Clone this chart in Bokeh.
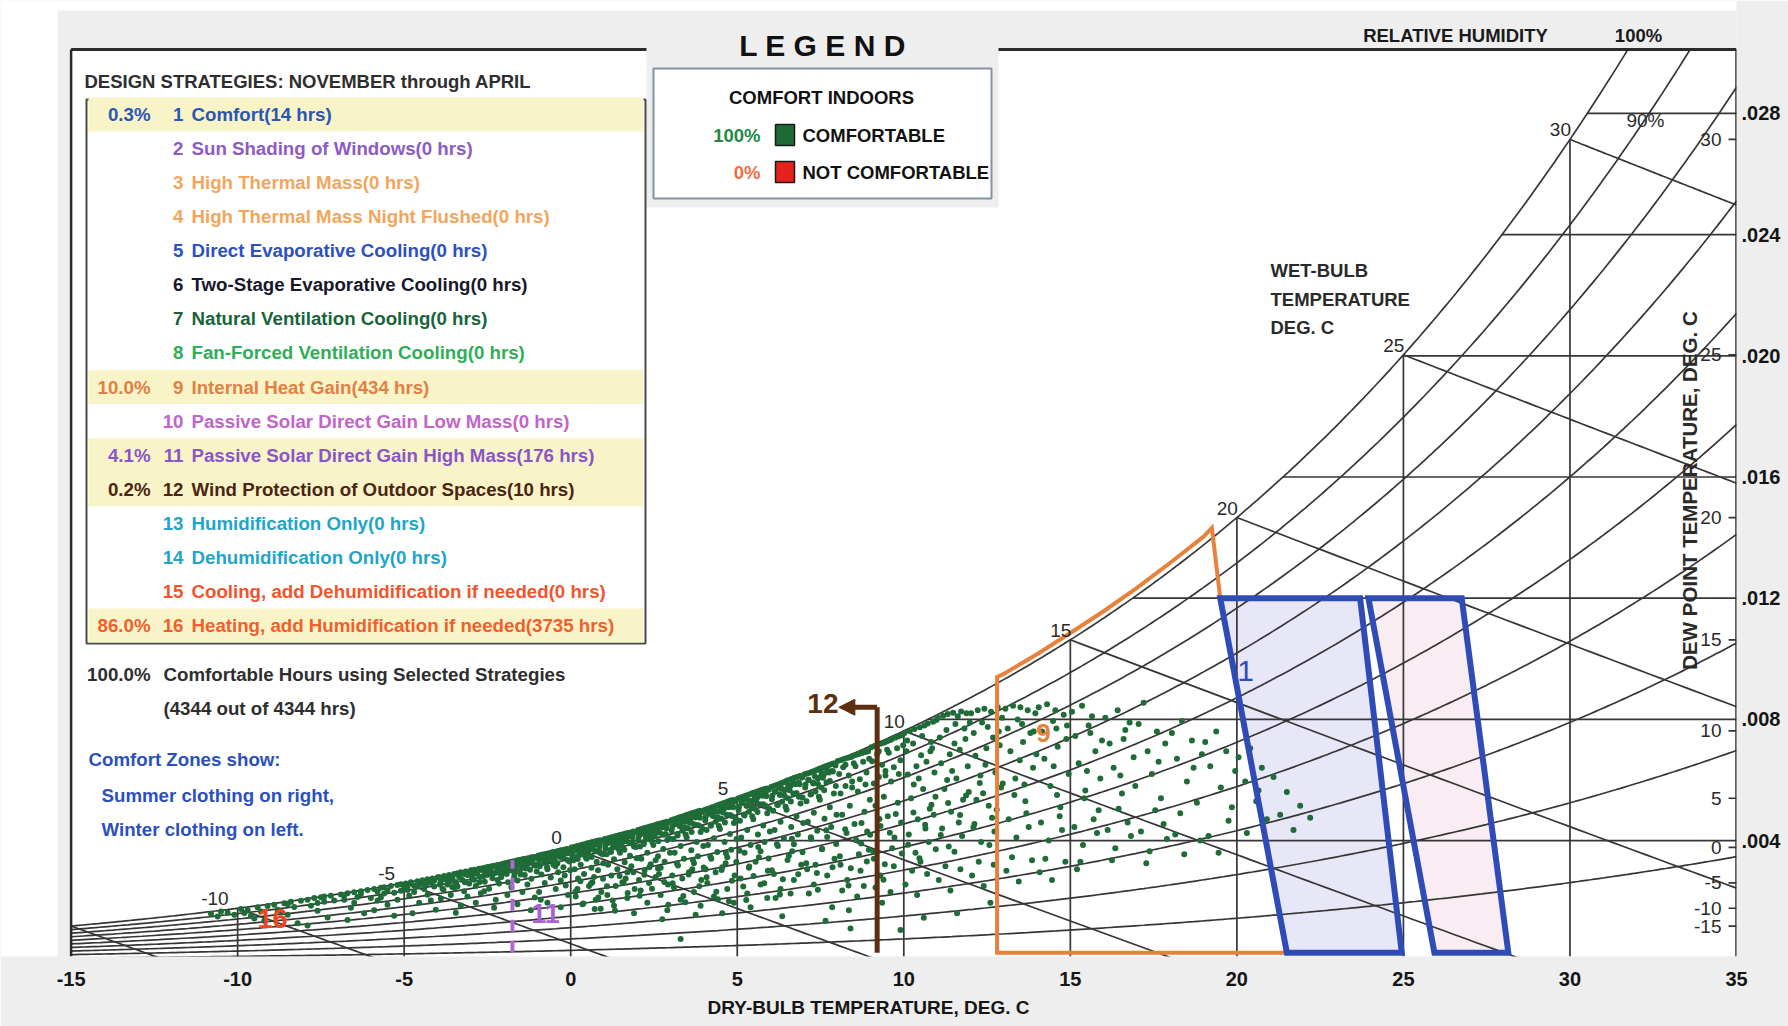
import numpy as np
from bokeh.plotting import figure
from bokeh.models import Range1d, FixedTicker, CustomJSTickFormatter, Arrow, NormalHead
from bokeh.core.properties import value
from bokeh.embed import file_html
from bokeh.resources import INLINE

SANS = "'Liberation Sans', Arial, sans-serif"

# ---------------------------------------------------------------- data
dry_bulb_ticks = [-15, -10, -5, 0, 5, 10, 15, 20, 25, 30, 35]
humidity_ratio_ticks = [0.004, 0.008, 0.012, 0.016, 0.020, 0.024, 0.028]
dry_bulb_grid = [-10, -5, 0, 5, 10, 15, 20, 25, 30]
rh_levels = [0.1, 0.2, 0.3, 0.4, 0.5, 0.6, 0.7, 0.8, 0.9, 1.0]
wet_bulb_lines = [-15, -10, -5, 0, 5, 10, 15, 20, 25, 30]
wet_bulb_labels = [-10, -5, 0, 5, 10, 15, 20, 25, 30]
dew_point_ticks = [-15, -10, -5, 0, 5, 10, 15, 20, 25, 30]

strategy_names = [
    "Comfort(14 hrs)", "Sun Shading of Windows(0 hrs)", "High Thermal Mass(0 hrs)",
    "High Thermal Mass Night Flushed(0 hrs)", "Direct Evaporative Cooling(0 hrs)",
    "Two-Stage Evaporative Cooling(0 hrs)", "Natural Ventilation Cooling(0 hrs)",
    "Fan-Forced Ventilation Cooling(0 hrs)", "Internal Heat Gain(434 hrs)",
    "Passive Solar Direct Gain Low Mass(0 hrs)", "Passive Solar Direct Gain High Mass(176 hrs)",
    "Wind Protection of Outdoor Spaces(10 hrs)", "Humidification Only(0 hrs)",
    "Dehumidification Only(0 hrs)", "Cooling, add Dehumidification if needed(0 hrs)",
    "Heating, add Humidification if needed(3735 hrs)",
]
strategy_share = ["0.3%", "", "", "", "", "", "", "", "10.0%", "", "4.1%", "0.2%", "", "", "", "86.0%"]
used_strategies = [1, 9, 11, 12, 16]
comfort_share = ["100%", "0%"]
comfort_classes = ["COMFORTABLE", "NOT COMFORTABLE"]

# comfort zones (dry bulb degC, humidity ratio kg/kg)
winter_zone_t = [19.5, 23.7, 24.95, 21.5]
winter_zone_w = [0.012, 0.012, 0.0003, 0.0003]
summer_zone_t = [23.95, 26.75, 28.15, 25.93]
summer_zone_w = [0.012, 0.012, 0.0003, 0.0003]
# internal heat gain zone
heat_gain_t = [12.8, 12.8, 13.0, 14.0, 15.0, 16.0, 17.0, 18.0, 19.0, 19.25, 19.5, 21.5]
heat_gain_w = [0.0003, 0.0094, 0.0095, 0.01015, 0.01085, 0.01157, 0.01234, 0.01317, 0.01403, 0.01432, 0.012, 0.0003]
# wind protection limit and passive solar limit
wind_t, wind_top_w, wind_arrow_t = 9.2, 0.0084, 8.05
solar_t, solar_top_w = -1.75, 0.00335

# hourly conditions, Nov-Apr (dry bulb degC, humidity ratio g/kg)
hours_cold = [
    (-10.8, 1.58), (-10.5, 1.66), (-10.3, 1.62), (-10.1, 1.55), (-10.6, 1.49),
    (-9.9, 1.74), (-9.7, 1.70), (-9.6, 1.52), (-9.4, 1.80), (-9.3, 1.66), (-9.2, 1.35), (-9.1, 1.84), (-9.8, 1.61), (-9.5, 1.43),
    (-8.9, 1.88), (-8.8, 1.72), (-8.6, 1.93), (-8.5, 1.55), (-8.4, 1.98), (-8.3, 1.81), (-8.2, 1.27), (-8.1, 2.01), (-8.7, 1.64), (-8.5, 1.90),
    (-7.9, 2.05), (-7.8, 1.85), (-7.7, 2.10), (-7.6, 1.68), (-7.5, 2.13), (-7.4, 1.98), (-7.3, 1.46), (-7.2, 2.18), (-7.1, 2.02), (-7.6, 1.94), (-7.9, 1.20), (-7.4, 2.15),
    (-6.9, 2.22), (-6.8, 2.05), (-6.7, 2.26), (-6.6, 1.78), (-6.5, 2.29), (-6.4, 2.14), (-6.3, 2.33), (-6.2, 1.60), (-6.1, 2.37), (-6.8, 2.19), (-6.5, 1.95), (-6.3, 2.24), (-6.0, 2.10), (-6.7, 1.38),
    (-5.9, 2.40), (-5.8, 2.31), (-5.7, 2.44), (-5.7, 2.12), (-5.6, 2.46), (-5.5, 2.36), (-5.5, 1.88), (-5.4, 2.50), (-5.3, 2.28), (-5.2, 2.53), (-5.2, 2.05), (-5.1, 2.56), (-5.0, 2.42), (-5.9, 1.70), (-5.6, 2.25), (-5.3, 1.52), (-5.8, 2.02), (-5.1, 2.34),
    (-4.95, 2.58), (-4.9, 2.45), (-4.85, 2.18), (-4.8, 2.62), (-4.7, 2.51), (-4.7, 2.30), (-4.6, 2.66), (-4.55, 1.95), (-4.5, 2.57), (-4.45, 2.69), (-4.4, 2.40), (-4.3, 2.72),
    (-4.3, 2.21), (-4.2, 2.61), (-4.15, 2.75), (-4.1, 2.48), (-4.05, 1.72), (-4.0, 2.78), (-4.9, 2.37), (-4.6, 2.49), (-4.35, 2.55), (-4.2, 2.02), (-4.75, 1.60), (-4.1, 2.67),
    (-3.95, 2.80), (-3.9, 2.64), (-3.85, 2.41), (-3.8, 2.83), (-3.75, 2.72), (-3.7, 2.55), (-3.65, 2.86), (-3.6, 2.20), (-3.55, 2.77), (-3.5, 2.90), (-3.45, 2.63), (-3.4, 2.92),
    (-3.4, 2.48), (-3.35, 2.81), (-3.3, 2.95), (-3.25, 2.70), (-3.2, 2.33), (-3.15, 2.98), (-3.1, 2.86), (-3.05, 2.58), (-3.0, 3.01), (-3.9, 2.09), (-3.6, 2.68), (-3.3, 1.86),
    (-3.7, 2.77), (-3.2, 2.90), (-3.5, 2.44), (-3.85, 2.74), (-3.1, 2.15), (-3.45, 1.62),
    (-2.98, 3.02), (-2.95, 2.88), (-2.9, 2.71), (-2.88, 3.04), (-2.85, 2.50), (-2.8, 2.95), (-2.75, 3.07), (-2.72, 2.80), (-2.7, 2.26), (-2.65, 3.09), (-2.6, 2.99), (-2.58, 2.64),
    (-2.55, 3.11), (-2.5, 2.87), (-2.48, 3.13), (-2.45, 2.41), (-2.4, 3.02), (-2.38, 3.15), (-2.35, 2.76), (-2.3, 3.17), (-2.28, 2.93), (-2.25, 2.05), (-2.2, 3.19), (-2.18, 3.07),
    (-2.15, 2.58), (-2.1, 3.21), (-2.08, 2.84), (-2.05, 3.23), (-2.02, 2.98), (-2.9, 3.00), (-2.6, 2.33), (-2.42, 2.96), (-2.2, 2.70), (-2.7, 3.04), (-2.3, 1.78), (-2.5, 3.10),
    (-2.12, 3.13), (-2.85, 1.95),
]
hours_cool = [
    (-1.98, 3.25), (-1.95, 3.10), (-1.92, 2.90), (-1.9, 3.27), (-1.88, 2.62), (-1.85, 3.18), (-1.82, 3.29), (-1.8, 3.02), (-1.78, 2.45), (-1.75, 3.31), (-1.72, 3.21), (-1.7, 2.80),
    (-1.68, 3.32), (-1.65, 3.08), (-1.62, 3.34), (-1.6, 2.68), (-1.58, 3.25), (-1.55, 3.36), (-1.52, 2.95), (-1.5, 3.37), (-1.48, 3.14), (-1.45, 2.30), (-1.42, 3.39), (-1.4, 3.29),
    (-1.38, 2.86), (-1.35, 3.40), (-1.32, 3.19), (-1.3, 2.55), (-1.28, 3.42), (-1.25, 3.35), (-1.22, 3.04), (-1.2, 3.44), (-1.18, 2.74), (-1.15, 3.40), (-1.12, 3.46), (-1.1, 3.22),
    (-1.08, 2.12), (-1.05, 3.45), (-1.02, 2.98), (-1.9, 2.20), (-1.6, 1.90), (-1.4, 3.12), (-1.2, 1.70), (-1.7, 3.26), (-1.3, 3.31),
    (-0.98, 3.50), (-0.96, 3.38), (-0.93, 3.15), (-0.9, 3.52), (-0.88, 2.88), (-0.85, 3.47), (-0.83, 3.54), (-0.8, 3.28), (-0.78, 2.60), (-0.75, 3.56), (-0.72, 3.43), (-0.7, 3.05),
    (-0.68, 3.57), (-0.65, 3.34), (-0.62, 3.59), (-0.6, 2.78), (-0.58, 3.51), (-0.55, 3.61), (-0.52, 3.20), (-0.5, 3.62), (-0.48, 3.40), (-0.45, 2.40), (-0.42, 3.64), (-0.4, 3.55),
    (-0.38, 2.95), (-0.35, 3.66), (-0.32, 3.46), (-0.3, 2.68), (-0.28, 3.68), (-0.25, 3.60), (-0.22, 3.12), (-0.2, 3.70), (-0.18, 2.85), (-0.15, 3.65), (-0.12, 3.72), (-0.1, 3.36),
    (-0.08, 2.20), (-0.05, 3.70), (-0.02, 3.02), (-0.95, 2.30), (-0.7, 1.95), (-0.5, 3.58), (-0.3, 1.80), (-0.85, 3.52), (-0.4, 3.25), (-0.15, 2.52), (-0.6, 3.56), (-0.25, 3.50),
    (-0.9, 2.05), (-0.1, 3.58),
    (0.02, 3.77), (0.05, 3.60), (0.08, 3.35), (0.1, 3.79), (0.12, 3.05), (0.15, 3.70), (0.18, 3.81), (0.2, 3.48), (0.22, 2.75), (0.25, 3.83), (0.28, 3.66), (0.3, 3.20),
    (0.32, 3.85), (0.35, 3.55), (0.38, 3.87), (0.4, 2.90), (0.42, 3.76), (0.45, 3.89), (0.48, 3.40), (0.5, 3.91), (0.52, 3.62), (0.55, 2.50), (0.58, 3.93), (0.6, 3.82),
    (0.62, 3.10), (0.65, 3.95), (0.68, 3.70), (0.7, 2.80), (0.72, 3.97), (0.75, 3.86), (0.78, 3.30), (0.8, 3.99), (0.82, 3.02), (0.85, 3.92), (0.88, 4.01), (0.9, 3.58),
    (0.92, 2.30), (0.95, 3.98), (0.98, 3.25), (0.15, 2.15), (0.35, 1.90), (0.55, 3.80), (0.75, 2.05), (0.1, 3.72), (0.45, 3.45), (0.65, 2.62), (0.3, 3.82), (0.85, 3.68),
    (0.2, 2.40), (0.6, 3.90), (0.9, 1.75), (0.4, 3.64),
    (1.02, 4.05), (1.05, 3.85), (1.08, 3.55), (1.1, 4.07), (1.12, 3.20), (1.15, 3.96), (1.18, 4.09), (1.2, 3.70), (1.22, 2.85), (1.25, 4.11), (1.28, 3.92), (1.3, 3.38),
    (1.32, 4.13), (1.35, 3.78), (1.38, 4.15), (1.4, 3.05), (1.42, 4.02), (1.45, 4.17), (1.48, 3.60), (1.5, 4.19), (1.52, 3.88), (1.55, 2.62), (1.58, 4.21), (1.6, 4.10),
    (1.62, 3.28), (1.65, 4.23), (1.68, 3.98), (1.7, 2.95), (1.72, 4.25), (1.75, 4.14), (1.78, 3.50), (1.8, 4.27), (1.82, 3.15), (1.85, 4.20), (1.88, 4.30), (1.9, 3.80),
    (1.92, 2.40), (1.95, 4.28), (1.98, 3.42), (1.1, 2.20), (1.3, 1.85), (1.5, 4.06), (1.7, 2.10), (1.15, 4.00), (1.45, 3.70), (1.65, 2.75), (1.25, 4.10), (1.85, 3.95),
    (1.35, 2.50), (1.6, 4.18), (1.9, 1.60), (1.4, 3.88),
    (2.02, 4.35), (2.05, 4.15), (2.08, 3.80), (2.1, 4.37), (2.12, 3.40), (2.15, 4.25), (2.18, 4.40), (2.2, 3.95), (2.22, 3.02), (2.25, 4.42), (2.28, 4.20), (2.3, 3.60),
    (2.32, 4.44), (2.35, 4.05), (2.38, 4.46), (2.4, 3.22), (2.42, 4.30), (2.45, 4.48), (2.48, 3.85), (2.5, 4.50), (2.52, 4.14), (2.55, 2.80), (2.58, 4.53), (2.6, 4.40),
    (2.62, 3.48), (2.65, 4.55), (2.68, 4.26), (2.7, 3.10), (2.72, 4.57), (2.75, 4.44), (2.78, 3.72), (2.8, 4.60), (2.82, 3.30), (2.85, 4.50), (2.88, 4.62), (2.9, 4.02),
    (2.92, 2.55), (2.95, 4.60), (2.98, 3.60), (2.1, 2.35), (2.3, 1.95), (2.5, 4.34), (2.7, 2.20), (2.15, 4.30), (2.45, 3.95), (2.65, 2.90), (2.25, 4.40), (2.85, 4.22),
    (2.35, 2.60), (2.6, 4.48), (2.9, 1.70), (2.4, 4.12), (2.05, 2.70), (2.75, 1.40), (2.55, 3.35),
]
hours_mild = [
    (3.02, 4.67), (3.05, 4.45), (3.08, 4.05), (3.1, 4.70), (3.12, 3.60), (3.15, 4.55), (3.18, 4.73), (3.2, 4.22), (3.22, 3.18), (3.25, 4.76), (3.28, 4.50), (3.3, 3.82),
    (3.32, 4.78), (3.35, 4.32), (3.38, 4.80), (3.4, 3.40), (3.42, 4.62), (3.45, 4.83), (3.48, 4.10), (3.5, 4.85), (3.52, 4.41), (3.55, 2.95), (3.58, 4.88), (3.6, 4.72),
    (3.62, 3.68), (3.65, 4.91), (3.68, 4.55), (3.7, 3.25), (3.72, 4.93), (3.75, 4.76), (3.78, 3.95), (3.8, 4.96), (3.82, 3.48), (3.85, 4.84), (3.88, 4.98), (3.9, 4.28),
    (3.92, 2.70), (3.95, 4.94), (3.98, 3.82), (3.1, 2.45), (3.3, 2.05), (3.5, 4.64), (3.7, 2.30), (3.15, 4.62), (3.45, 4.20), (3.65, 3.05), (3.25, 4.70), (3.85, 4.50),
    (3.35, 2.75), (3.6, 4.80), (3.9, 1.85), (3.4, 4.40), (3.05, 2.85), (3.3, 0.75), (3.75, 1.55),
    (4.02, 5.01), (4.05, 4.78), (4.08, 4.35), (4.1, 5.04), (4.12, 3.85), (4.15, 4.90), (4.18, 5.07), (4.2, 4.52), (4.22, 3.40), (4.25, 5.10), (4.28, 4.82), (4.3, 4.08),
    (4.32, 5.12), (4.35, 4.62), (4.38, 5.15), (4.4, 3.62), (4.42, 4.95), (4.45, 5.18), (4.48, 4.38), (4.5, 5.20), (4.52, 4.72), (4.55, 3.12), (4.58, 5.23), (4.6, 5.05),
    (4.62, 3.95), (4.65, 5.26), (4.68, 4.85), (4.7, 3.45), (4.72, 5.29), (4.75, 5.10), (4.78, 4.22), (4.8, 5.32), (4.82, 3.70), (4.85, 5.18), (4.88, 5.34), (4.9, 4.58),
    (4.92, 2.85), (4.95, 5.30), (4.98, 4.05), (4.1, 2.60), (4.3, 2.15), (4.5, 4.98), (4.7, 2.40), (4.15, 4.95), (4.45, 4.48), (4.65, 3.25), (4.25, 5.00), (4.85, 4.80),
    (4.35, 2.95), (4.6, 5.15), (4.9, 1.95), (4.4, 4.70), (4.05, 3.05), (4.55, 1.60), (4.75, 2.00),
    (5.02, 5.39), (5.05, 5.12), (5.08, 4.65), (5.1, 5.42), (5.12, 4.10), (5.15, 5.25), (5.18, 5.45), (5.2, 4.85), (5.22, 3.60), (5.25, 5.48), (5.28, 5.15), (5.3, 4.35),
    (5.32, 5.50), (5.35, 4.95), (5.38, 5.53), (5.4, 3.85), (5.42, 5.30), (5.45, 5.56), (5.48, 4.70), (5.5, 5.58), (5.52, 5.05), (5.55, 3.30), (5.58, 5.61), (5.6, 5.42),
    (5.62, 4.20), (5.65, 5.64), (5.68, 5.20), (5.7, 3.65), (5.72, 5.67), (5.75, 5.48), (5.78, 4.50), (5.8, 5.69), (5.82, 3.95), (5.85, 5.55), (5.88, 5.72), (5.9, 4.90),
    (5.92, 3.00), (5.95, 5.68), (5.98, 4.30), (5.1, 2.75), (5.3, 2.25), (5.5, 5.35), (5.7, 2.55), (5.15, 5.30), (5.45, 4.80), (5.65, 3.45), (5.25, 5.38), (5.85, 5.15),
    (5.35, 3.10), (5.6, 5.52), (5.9, 2.10), (5.4, 1.80),
    (6.02, 5.77), (6.05, 5.48), (6.08, 4.98), (6.1, 5.80), (6.12, 4.35), (6.15, 5.62), (6.18, 5.83), (6.2, 5.18), (6.22, 3.82), (6.25, 5.86), (6.28, 5.50), (6.3, 4.62),
    (6.32, 5.89), (6.35, 5.28), (6.38, 5.92), (6.4, 4.08), (6.42, 5.66), (6.45, 5.95), (6.48, 5.02), (6.5, 5.98), (6.52, 5.40), (6.55, 3.50), (6.58, 6.01), (6.6, 5.80),
    (6.62, 4.45), (6.65, 6.04), (6.68, 5.55), (6.7, 3.88), (6.72, 6.07), (6.75, 5.86), (6.78, 4.80), (6.8, 6.10), (6.82, 4.20), (6.85, 5.92), (6.88, 6.13), (6.9, 5.22),
    (6.92, 3.20), (6.95, 6.08), (6.98, 4.58), (6.1, 2.90), (6.3, 2.40), (6.5, 5.72), (6.7, 2.70), (6.15, 2.10), (6.45, 5.12), (6.65, 3.65), (6.25, 5.75), (6.85, 5.45),
    (6.35, 1.50), (6.6, 2.25),
    (7.02, 6.19), (7.05, 5.85), (7.08, 5.30), (7.1, 6.21), (7.12, 4.62), (7.15, 6.00), (7.18, 6.24), (7.2, 5.52), (7.22, 4.05), (7.25, 6.27), (7.28, 5.88), (7.3, 4.92),
    (7.32, 6.30), (7.35, 5.62), (7.38, 6.33), (7.4, 4.32), (7.42, 6.05), (7.45, 6.36), (7.48, 5.35), (7.5, 6.39), (7.52, 5.75), (7.55, 3.72), (7.58, 6.42), (7.6, 6.18),
    (7.62, 4.72), (7.65, 6.45), (7.68, 5.92), (7.7, 4.12), (7.72, 6.48), (7.75, 6.25), (7.78, 5.10), (7.8, 6.51), (7.82, 4.45), (7.85, 6.30), (7.88, 6.54), (7.9, 5.55),
    (7.92, 3.40), (7.95, 6.48), (7.98, 4.85), (7.1, 3.05), (7.3, 2.55), (7.5, 6.10), (7.7, 2.85), (7.15, 2.25), (7.45, 5.45), (7.65, 1.35), (7.85, 1.80), (7.35, 3.20),
    (8.02, 6.63), (8.06, 6.20), (8.1, 5.55), (8.12, 6.66), (8.15, 4.85), (8.18, 6.42), (8.22, 6.70), (8.25, 5.80), (8.28, 4.25), (8.32, 6.73), (8.35, 6.15), (8.38, 5.15),
    (8.42, 6.76), (8.45, 5.95), (8.48, 6.80), (8.52, 4.55), (8.55, 6.45), (8.58, 6.83), (8.62, 5.62), (8.65, 6.86), (8.68, 6.02), (8.72, 3.90), (8.75, 6.89), (8.78, 6.60),
    (8.82, 4.95), (8.85, 6.92), (8.88, 6.25), (8.9, 4.30), (8.93, 6.95), (8.96, 6.70), (8.98, 5.35), (8.1, 3.20), (8.3, 2.70), (8.5, 6.55), (8.7, 3.00), (8.15, 2.35),
    (8.45, 5.75), (8.65, 3.55), (8.25, 6.50), (8.85, 5.85), (8.35, 1.70), (8.6, 2.15), (8.95, 3.70), (8.4, 1.10), (8.8, 2.50),
]
hours_near_saturation = [
    (-3.93, 2.55), (-3.71, 2.69), (-3.56, 2.47), (-3.34, 2.80), (-3.18, 2.62), (-3.07, 2.87), (-3.82, 2.38), (-3.44, 2.59),
    (-2.96, 2.74), (-2.81, 2.90), (-2.63, 2.81), (-2.57, 3.02), (-2.36, 2.88), (-2.22, 3.10), (-2.09, 2.79), (-2.74, 2.62), (-2.44, 3.06), (-2.17, 2.97),
    (-1.94, 3.04), (-1.86, 3.20), (-1.69, 2.92), (-1.58, 3.18), (-1.47, 3.33), (-1.36, 3.08), (-1.23, 3.26), (-1.13, 3.39), (-1.06, 3.17), (-1.77, 3.12), (-1.51, 2.88), (-1.29, 3.37),
    (-0.97, 3.22), (-0.89, 3.41), (-0.77, 3.30), (-0.66, 3.52), (-0.54, 3.38), (-0.46, 3.15), (-0.37, 3.61), (-0.23, 3.44), (-0.14, 3.57), (-0.04, 3.31), (-0.71, 3.12), (-0.29, 3.66), (-0.83, 3.47),
    (0.04, 3.52), (0.13, 3.68), (0.21, 3.39), (0.34, 3.74), (0.43, 3.57), (0.52, 3.81), (0.63, 3.46), (0.71, 3.90), (0.79, 3.64), (0.87, 3.83), (0.96, 3.55), (0.27, 3.60), (0.58, 3.71),
    (1.04, 3.74), (1.13, 3.93), (1.21, 3.62), (1.32, 4.01), (1.41, 3.84), (1.53, 4.09), (1.61, 3.70), (1.69, 4.16), (1.78, 3.91), (1.86, 4.12), (1.96, 3.79), (1.27, 3.80), (1.57, 3.96),
    (2.03, 4.03), (2.11, 4.22), (2.19, 3.88), (2.33, 4.30), (2.42, 4.12), (2.51, 4.40), (2.63, 3.98), (2.71, 4.47), (2.79, 4.19), (2.87, 4.41), (2.96, 4.08), (2.26, 4.11), (2.57, 4.26),
    (3.03, 4.33), (3.12, 4.55), (3.21, 4.17), (3.33, 4.63), (3.42, 4.44), (3.51, 4.72), (3.63, 4.28), (3.71, 4.81), (3.79, 4.51), (3.88, 4.75), (3.96, 4.39), (3.27, 4.48), (3.57, 4.59),
    (4.04, 4.66), (4.12, 4.88), (4.21, 4.49), (4.33, 4.97), (4.42, 4.77), (4.51, 5.07), (4.63, 4.60), (4.71, 5.16), (4.79, 4.84), (4.88, 5.10), (4.96, 4.71), (4.27, 4.81), (4.57, 4.93),
    (5.04, 5.01), (5.13, 5.24), (5.22, 4.83), (5.33, 5.33), (5.42, 5.12), (5.53, 5.44), (5.61, 4.94), (5.69, 5.52), (5.78, 5.20), (5.87, 5.46), (5.96, 5.06), (5.28, 5.15), (5.57, 5.30),
    (6.04, 5.36), (6.13, 5.61), (6.22, 5.17), (6.33, 5.71), (6.42, 5.48), (6.53, 5.83), (6.61, 5.29), (6.69, 5.92), (6.78, 5.57), (6.87, 5.86), (6.96, 5.42), (6.28, 5.53), (6.57, 5.66),
    (7.04, 5.75), (7.13, 6.01), (7.22, 5.54), (7.33, 6.12), (7.42, 5.87), (7.53, 6.24), (7.61, 5.66), (7.69, 6.34), (7.78, 5.97), (7.87, 6.28), (7.96, 5.80), (7.28, 5.92), (7.57, 6.07),
]
hours_drier = [
    (0.14, 2.31), (0.38, 1.92), (0.61, 2.58), (0.83, 2.12), (0.97, 2.74), (0.29, 2.66), (0.72, 1.74),
    (1.09, 2.49), (1.26, 2.02), (1.47, 2.83), (1.71, 2.27), (1.88, 2.95), (1.33, 1.68), (1.59, 2.61),
    (2.07, 2.18), (2.21, 2.87), (2.44, 2.41), (2.62, 3.08), (2.81, 2.63), (2.93, 1.88), (2.36, 3.12),
    (3.06, 2.59), (3.19, 3.24), (3.38, 2.17), (3.54, 2.88), (3.67, 3.36), (3.86, 2.49), (3.99, 3.11), (3.44, 1.96),
    (4.08, 2.79), (4.19, 3.47), (4.37, 2.31), (4.53, 3.03), (4.66, 3.58), (4.84, 2.67), (4.97, 3.29), (4.42, 2.06),
    (5.07, 3.66), (5.18, 2.48), (5.36, 3.14), (5.49, 2.83), (5.63, 3.79), (5.81, 2.59), (5.94, 3.41), (5.27, 2.04),
    (6.04, 3.02), (6.19, 3.88), (6.37, 2.72), (6.51, 3.36), (6.64, 4.06), (6.83, 2.89), (6.96, 3.61), (6.28, 2.22),
    (7.07, 3.25), (7.21, 4.11), (7.39, 2.93), (7.54, 3.71), (7.67, 4.34), (7.86, 3.12), (7.97, 3.89), (7.42, 2.38),
    (8.08, 3.48), (8.24, 4.37), (8.41, 3.09), (8.57, 4.02), (8.73, 4.58), (8.89, 3.31), (8.99, 4.19), (8.34, 2.52),
    (9.09, 3.63), (9.27, 4.71), (9.43, 3.22), (9.58, 4.26), (9.76, 4.88), (9.94, 3.57), (9.39, 2.71),
    (10.13, 3.86), (10.29, 4.93), (10.47, 3.42), (10.64, 4.52), (10.83, 5.18), (10.96, 3.71),
    (11.11, 4.18), (11.33, 5.24), (11.52, 3.63), (11.69, 4.84), (11.87, 5.49),
    (12.09, 4.44), (12.38, 5.56), (12.57, 3.85), (12.79, 5.02), (12.97, 5.88),
]
hours_warm = [
    (9.02, 7.08), (9.05, 6.62), (9.1, 5.88), (9.12, 7.12), (9.15, 5.15), (9.2, 6.85), (9.22, 7.16), (9.25, 6.10), (9.3, 4.48), (9.32, 7.20), (9.35, 6.50), (9.4, 5.45),
    (9.42, 7.24), (9.45, 6.30), (9.5, 7.28), (9.52, 4.80), (9.55, 6.90), (9.6, 7.32), (9.62, 5.95), (9.65, 7.36), (9.7, 6.42), (9.72, 4.10), (9.75, 7.40), (9.8, 7.05),
    (9.82, 5.25), (9.85, 7.44), (9.9, 6.65), (9.92, 4.60), (9.95, 7.48), (9.98, 7.15), (9.1, 3.40), (9.3, 2.85), (9.5, 7.00), (9.7, 3.15), (9.15, 2.45), (9.45, 6.15),
    (9.65, 3.75), (9.25, 6.95), (9.85, 6.20), (9.35, 1.95), (9.6, 2.30), (9.9, 1.05),
    (10.02, 7.55), (10.08, 6.95), (10.12, 6.18), (10.18, 7.62), (10.22, 5.40), (10.28, 7.20), (10.32, 7.68), (10.38, 6.45), (10.42, 4.70), (10.48, 7.74), (10.52, 6.82),
    (10.58, 5.70), (10.62, 7.80), (10.68, 6.60), (10.72, 7.86), (10.78, 5.05), (10.82, 7.25), (10.88, 7.92), (10.92, 6.25), (10.98, 7.98), (10.15, 4.20), (10.35, 3.60),
    (10.55, 7.45), (10.75, 3.95), (10.25, 3.00), (10.45, 6.05), (10.65, 4.40), (10.85, 7.05), (10.05, 2.55), (10.4, 2.20), (10.6, 1.45), (10.95, 5.45), (10.3, 5.85),
    (10.7, 2.90), (10.5, 3.30), (10.9, 4.85), (10.1, 7.30), (10.8, 6.95),
    (11.02, 8.05), (11.08, 7.40), (11.12, 6.55), (11.18, 8.12), (11.22, 5.70), (11.28, 7.65), (11.32, 8.18), (11.38, 6.85), (11.42, 4.95), (11.48, 8.22), (11.52, 7.20),
    (11.58, 6.05), (11.62, 8.10), (11.68, 7.00), (11.72, 8.26), (11.78, 5.35), (11.82, 7.70), (11.88, 8.20), (11.92, 6.45), (11.98, 7.90), (11.15, 4.40), (11.35, 3.80),
    (11.55, 7.85), (11.75, 4.15), (11.25, 3.15), (11.45, 6.30), (11.65, 4.60), (11.85, 7.35), (11.05, 2.70), (11.4, 2.35), (11.6, 1.60), (11.95, 5.60), (11.3, 6.00), (11.7, 3.05),
    (12.02, 8.20), (12.1, 7.55), (12.15, 6.80), (12.22, 8.30), (12.28, 5.90), (12.35, 7.90), (12.42, 8.35), (12.48, 7.05), (12.55, 5.15), (12.62, 8.25), (12.68, 7.40),
    (12.75, 6.25), (12.82, 8.40), (12.88, 7.15), (12.95, 8.05), (12.12, 4.55), (12.32, 3.95), (12.52, 7.75), (12.72, 4.30), (12.25, 3.30), (12.45, 6.50), (12.65, 4.75),
    (12.85, 7.60), (12.05, 2.85), (12.4, 2.50), (12.6, 1.95), (12.92, 5.75), (12.3, 6.15), (12.7, 3.20), (12.18, 5.35),
    (13.05, 8.35), (13.12, 7.70), (13.2, 6.95), (13.28, 8.45), (13.35, 6.05), (13.42, 8.00), (13.5, 8.40), (13.58, 7.25), (13.65, 5.30), (13.72, 8.30), (13.8, 7.55),
    (13.88, 6.40), (13.95, 8.20), (13.15, 4.70), (13.38, 4.10), (13.55, 7.85), (13.75, 4.45), (13.25, 3.45), (13.48, 6.65), (13.68, 4.90), (13.9, 7.60), (13.08, 3.00),
    (13.45, 2.65), (13.62, 5.85), (13.85, 3.35), (13.32, 5.50), (13.98, 6.85),
    (14.05, 8.40), (14.15, 7.60), (14.22, 6.70), (14.3, 8.50), (14.4, 5.80), (14.48, 7.95), (14.55, 8.30), (14.62, 7.10), (14.7, 5.10), (14.8, 8.15), (14.88, 7.35),
    (14.95, 6.20), (14.12, 4.60), (14.35, 4.00), (14.58, 7.70), (14.75, 4.35), (14.25, 3.40), (14.5, 6.45), (14.68, 4.80), (14.9, 7.80), (14.08, 2.95), (14.45, 2.70),
    (14.85, 3.30), (14.6, 5.50),
    (15.05, 8.25), (15.15, 7.45), (15.25, 6.55), (15.35, 8.45), (15.45, 5.65), (15.55, 7.80), (15.65, 8.10), (15.75, 6.95), (15.85, 5.00), (15.95, 7.30), (15.12, 4.45),
    (15.38, 3.85), (15.6, 7.55), (15.8, 4.25), (15.3, 3.30), (15.5, 6.30), (15.7, 4.70), (15.9, 6.05), (15.2, 3.05), (15.42, 5.40),
    (16.05, 8.05), (16.18, 7.20), (16.3, 6.40), (16.42, 8.30), (16.55, 5.55), (16.65, 7.65), (16.78, 7.90), (16.9, 6.75), (16.12, 4.35), (16.35, 3.75), (16.6, 7.35),
    (16.82, 4.15), (16.25, 3.35), (16.5, 6.15), (16.72, 4.60), (16.95, 5.80), (16.45, 5.05),
    (17.05, 7.85), (17.2, 8.55), (17.32, 6.95), (17.45, 6.20), (17.6, 7.60), (17.72, 5.40), (17.85, 7.20), (17.12, 4.30), (17.38, 3.65), (17.65, 6.60), (17.9, 4.05),
    (17.28, 3.25), (17.55, 5.00), (17.8, 4.55),
    (18.05, 7.55), (18.2, 6.70), (18.35, 7.95), (18.5, 5.95), (18.65, 7.30), (18.8, 5.25), (18.95, 6.85), (18.15, 4.20), (18.42, 3.55), (18.7, 6.40), (18.9, 4.00), (18.3, 4.90),
    (19.05, 7.25), (19.2, 6.45), (19.38, 7.60), (19.52, 5.75), (19.68, 6.95), (19.85, 5.10), (19.15, 4.15), (19.45, 3.60), (19.75, 4.65), (19.95, 6.30),
    (20.05, 6.75), (20.25, 5.95), (20.4, 7.05), (20.58, 5.30), (20.75, 6.40), (20.9, 4.70), (20.3, 4.25), (20.65, 5.65),
    (21.1, 6.10), (21.3, 4.85), (21.5, 5.60), (21.7, 4.35), (21.9, 5.15), (22.2, 4.75),
]

# ---------------------------------------------------------------- styles / layout
GRID = "#363636"
DOT = "#1f6c38"
BLUE = "#2f4cb6"
ORANGE = "#e8813c"
BROWN = "#5e2e10"
PURPLE = "#b068d6"
PANEL_GRAY = "#eeeeee"
row_colors = ["#2b56b8", "#8c5bc4", "#f3a55c", "#f3a55c", "#2d4fc2", "#17172a",
              "#17643a", "#2fae57", "#e27f45", "#c264c8", "#8a55c9", "#4b2511",
              "#1ea5c8", "#1ea5c8", "#f2542c", "#f25f2c"]

W_PX, H_PX = 1788, 1026
FRAME_W, FRAME_H = 1736, 956          # plot frame in pixels (right axis and x axis outside)
T_LEFT, T_RIGHT = -17.1196, 35.0
W_BOTTOM, W_UPPER = 0.000173, 0.031729
W_TOP = 0.030112                      # top edge of the chart area

# ---------------------------------------------------------------- psychrometrics (sea level)
P_ATM = 101.325


def p_ws(t):
    t = np.asarray(t, dtype=float)
    return 0.61094 * np.exp(17.625 * t / (t + 243.04))


def w_from_pw(pw):
    return 0.622 * pw / (P_ATM - pw)


def w_rh(t, rh):
    return w_from_pw(rh * p_ws(t))


def t_from_pws(p):
    a = np.log(p / 0.61094)
    return 243.04 * a / (17.625 - a)


def pw_from_w(w):
    return w * P_ATM / (0.622 + w)


def w_wet_bulb(t, twb):
    ws = w_rh(twb, 1.0)
    return ((2501 - 2.326 * twb) * ws - 1.006 * (t - twb)) / (2501 + 1.86 * t - 4.186 * twb)


# ---------------------------------------------------------------- figure
p = figure(width=W_PX, height=H_PX, output_backend="svg", toolbar_location=None,
           x_range=Range1d(T_LEFT, T_RIGHT), y_range=Range1d(W_BOTTOM, W_UPPER),
           x_axis_location="below", y_axis_location="right",
           min_border_left=0, min_border_top=0, min_border_right=W_PX - FRAME_W,
           min_border_bottom=H_PX - FRAME_H,
           background_fill_color=PANEL_GRAY, border_fill_color=PANEL_GRAY)
p.outline_line_color = None
p.xgrid.visible = False
p.ygrid.visible = False
p.extra_x_ranges = {"px": Range1d(0, FRAME_W)}
p.extra_y_ranges = {"px": Range1d(FRAME_H, 0)}

xa = p.xaxis[0]
xa.ticker = FixedTicker(ticks=dry_bulb_ticks)
xa.formatter = CustomJSTickFormatter(code="return tick.toString();")
xa.axis_label = "DRY-BULB TEMPERATURE, DEG. C"
xa.axis_line_color = None
xa.major_tick_line_color = None
xa.major_tick_out = 0
xa.major_tick_in = 0
xa.minor_tick_line_color = None
xa.major_label_standoff = 15
xa.axis_label_standoff = 8
xa.major_label_text_font = SANS
xa.major_label_text_font_size = "20px"
xa.major_label_text_font_style = "bold"
xa.major_label_text_color = "#151515"
xa.axis_label_text_font = SANS
xa.axis_label_text_font_size = "19px"
xa.axis_label_text_font_style = "bold"
xa.axis_label_text_color = "#151515"

ya = p.yaxis[0]
ya.ticker = FixedTicker(ticks=humidity_ratio_ticks)
ya.formatter = CustomJSTickFormatter(code="return tick.toFixed(3).replace(/^0/, '');")
ya.axis_line_color = None
ya.major_tick_line_color = None
ya.major_tick_out = 0
ya.major_tick_in = 0
ya.minor_tick_line_color = None
ya.major_label_standoff = 5
ya.major_label_text_font = SANS
ya.major_label_text_font_size = "20px"
ya.major_label_text_font_style = "bold"
ya.major_label_text_color = "#151515"

PX = dict(x_range_name="px", y_range_name="px")


def px_text(xs, ys, texts, colors="#222222", size=19, bold=True, align="left",
            font=SANS, angle=0.0):
    p.text(x=xs, y=ys, text=texts, text_color=colors, angle=angle,
           text_font=value(font), text_font_size=value(f"{size}px"),
           text_font_style=value("bold" if bold else "normal"),
           text_align=value(align), text_baseline=value("middle"), **PX)


# page areas
p.quad(left=[0], right=[57], top=[0], bottom=[FRAME_H], fill_color="white", line_color=None, **PX)
p.quad(left=[0], right=[FRAME_W], top=[0], bottom=[10], fill_color="white", line_color=None, **PX)
p.quad(left=[70.6], right=[FRAME_W], top=[49], bottom=[FRAME_H], fill_color="white", line_color=None, **PX)
p.quad(left=[646], right=[998], top=[47], bottom=[207], fill_color=PANEL_GRAY, line_color=None, **PX)

# comfort zone fills
p.patch(winter_zone_t, winter_zone_w, fill_color="#6a6ad0", fill_alpha=0.16, line_color=None)
p.patch(summer_zone_t, summer_zone_w, fill_color="#d0679e", fill_alpha=0.12, line_color=None)

# relative humidity curves
rh_xs, rh_ys = [], []
for rh in rh_levels:
    t_end = min(T_RIGHT, float(t_from_pws(pw_from_w(W_TOP) / rh)))
    t = np.linspace(-15, t_end, 400)
    rh_xs.append(t.tolist())
    rh_ys.append(w_rh(t, rh).tolist())
p.multi_line(rh_xs, rh_ys, line_color=GRID, line_width=1.7)

# dry-bulb verticals up to saturation
db = np.array(dry_bulb_grid, dtype=float)
p.segment(x0=db, y0=[W_BOTTOM] * len(db), x1=db, y1=w_rh(db, 1.0), line_color=GRID, line_width=1.7)

# humidity-ratio horizontals from the dew point to the right edge
hr = np.array(humidity_ratio_ticks)
p.segment(x0=t_from_pws(pw_from_w(hr)), y0=hr, x1=[T_RIGHT] * len(hr), y1=hr, line_color=GRID, line_width=1.7)

# wet-bulb lines
wb_xs, wb_ys = [], []
for twb in wet_bulb_lines:
    ws = float(w_rh(twb, 1.0))
    t_end = min(T_RIGHT, twb + (2501 - 2.326 * twb) * ws / 1.006)
    t = np.linspace(twb, t_end, 60)
    wb_xs.append(t.tolist())
    wb_ys.append(w_wet_bulb(t, twb).tolist())
p.multi_line(wb_xs, wb_ys, line_color=GRID, line_width=1.7)

# chart borders
p.segment(x0=[-15, T_RIGHT], y0=[W_BOTTOM, W_BOTTOM], x1=[-15, T_RIGHT], y1=[W_TOP, W_TOP],
          line_color="#2a2a2a", line_width=2.5)
p.segment(x0=[70.6, 998], y0=[49, 49], x1=[646, FRAME_W], y1=[49, 49], line_color="#2a2a2a", line_width=3, **PX)

# dew point ticks on the right edge
dp = np.array(dew_point_ticks, dtype=float)
dp_w = w_rh(dp, 1.0)
p.segment(x0=[T_RIGHT - 0.24] * len(dp), y0=dp_w, x1=[T_RIGHT] * len(dp), y1=dp_w, line_color=GRID, line_width=1.7)

# hourly data
all_hours = hours_cold + hours_cool + hours_mild + hours_near_saturation + hours_drier + hours_warm
dot_t = [h[0] for h in all_hours]
dot_w = [h[1] / 1000.0 for h in all_hours]
p.scatter(dot_t, dot_w, size=6, fill_color=DOT, line_color=None)

# design strategy boundaries
p.patch(heat_gain_t, heat_gain_w, fill_color=None, line_color=ORANGE, line_width=4, line_join="miter")
p.line([wind_t, wind_t], [0.0003, wind_top_w], line_color=BROWN, line_width=5)
p.add_layout(Arrow(end=NormalHead(size=16, fill_color=BROWN, line_color=BROWN),
                   x_start=wind_t, y_start=wind_top_w, x_end=wind_arrow_t, y_end=wind_top_w,
                   line_color=BROWN, line_width=5))
p.line([solar_t, solar_t], [0.0003, solar_top_w], line_color=PURPLE, line_width=4, line_dash="12 9")

# comfort zone outlines
p.patch(winter_zone_t, winter_zone_w, fill_color=None, line_color=BLUE, line_width=6, line_join="miter")
p.patch(summer_zone_t, summer_zone_w, fill_color=None, line_color=BLUE, line_width=6, line_join="miter")

# wet-bulb / saturation labels
wl = np.array(wet_bulb_labels, dtype=float)
p.text(x=wl, y=w_rh(wl, 1.0), text=[str(v) for v in wet_bulb_labels],
       x_offset=[-9 if v <= 5 else 1 for v in wet_bulb_labels], y_offset=-3,
       text_font=value(SANS), text_font_size=value("19px"), text_color="#2a2a2a",
       text_align=value("right"), text_baseline=value("bottom"))

# dew point labels
p.text(x=[T_RIGHT] * len(dp), y=dp_w, text=[str(v) for v in dew_point_ticks], x_offset=-15,
       text_font=value(SANS), text_font_size=value("19px"), text_color="#2a2a2a",
       text_align=value("right"), text_baseline=value("middle"))

# ---------------------------------------------------------------- panels and texts
# design strategies panel
ROW0, ROW_H = 114.0, 34.07
rows_y = [ROW0 + i * ROW_H for i in range(len(strategy_names))]
p.quad(left=[86], right=[645], top=[99], bottom=[643], fill_color="white", line_color="#4a4a4a", line_width=2, **PX)
p.quad(left=[88] * len(used_strategies), right=[643] * len(used_strategies),
       top=[rows_y[k - 1] - ROW_H / 2 for k in used_strategies],
       bottom=[rows_y[k - 1] + ROW_H / 2 for k in used_strategies],
       fill_color="#f8f4c8", line_color=None, **PX)
px_text([84], [81], ["DESIGN STRATEGIES:  NOVEMBER through APRIL"], "#2e2e2e", 18.5)
px_text([150] * 16, rows_y, strategy_share, row_colors, 18.7, align="right")
px_text([183] * 16, rows_y, [str(i + 1) for i in range(16)], row_colors, 18.7, align="right")
px_text([191] * 16, rows_y, strategy_names, row_colors, 18.7)

px_text([150], [674], ["100.0%"], "#2e2e2e", 18.7, align="right")
px_text([163, 163], [674, 708], ["Comfortable Hours using Selected Strategies", "(4344 out of 4344 hrs)"], "#2e2e2e", 18.7)
px_text([88, 101, 101], [759, 795, 829],
        ["Comfort Zones show:", "Summer clothing on right,", "Winter clothing on left."], "#2b50bd", 18.7)

# legend box
px_text([822], [45], ["L E G E N D"], "#111111", 30, align="center")
p.quad(left=[653], right=[991], top=[68], bottom=[198], fill_color="white", line_color="#8493a3", line_width=2, **PX)
px_text([821], [97], ["COMFORT INDOORS"], "#111111", 18.5, align="center")
p.quad(left=[775, 775], right=[794, 794], top=[124, 161], bottom=[145, 182],
       fill_color=["#1d6b34", "#e3221b"], line_color="#1a1a1a", line_width=1.5, **PX)
px_text([760, 760], [135, 172], comfort_share, ["#238a45", "#f36d43"], 18.5, align="right")
px_text([802, 802], [135, 172], comfort_classes, "#111111", 18.5)

# chart annotations
px_text([1455, 1638], [35, 35], ["RELATIVE HUMIDITY", "100%"], "#1a1a1a", 18.5, align="center")
px_text([1645], [120], ["90%"], "#2a2a2a", 19, bold=False, align="center")
px_text([1270] * 3, [270, 299, 327], ["WET-BULB", "TEMPERATURE", "DEG. C"], "#2a2a2a", 18.5)
px_text([1689], [490], ["DEW POINT TEMPERATURE, DEG. C"], "#2a2a2a", 20.5, align="center", angle=np.pi / 2)
px_text([1245], [670], ["1"], BLUE, 30, bold=False, align="center")
px_text([1043], [732], ["9"], ORANGE, 26, align="center")
px_text([838], [703], ["12"], BROWN, 28, align="right")
px_text([545], [913], ["11"], "#a862d6", 27, align="center")
px_text([272], [918], ["16"], "#f0431f", 27, align="center")

open("out.html", "w").write(file_html(p, INLINE))
